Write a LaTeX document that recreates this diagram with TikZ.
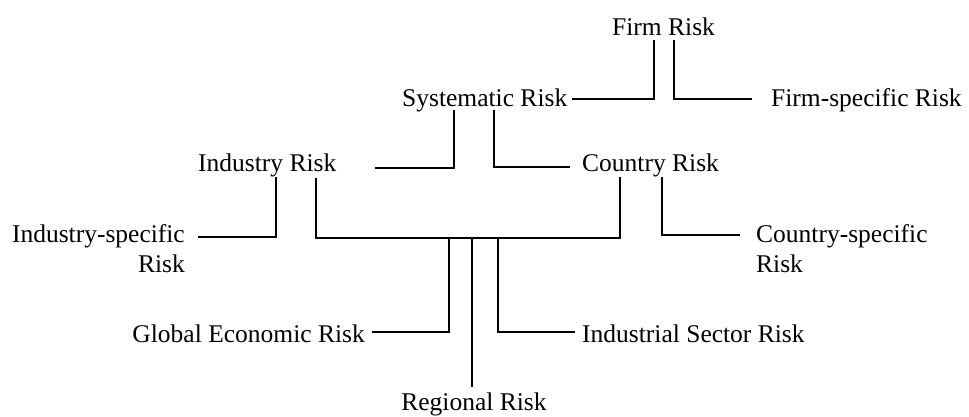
\documentclass[tikz,border=0pt]{standalone}
\usepackage{fontspec}
\setmainfont{Liberation Serif}
\tikzset{
  lbl/.style={inner sep=0pt, font=\fontsize{25.5}{30}\selectfont},
  conn/.style={line width=1.7pt, black},
  thinconn/.style={line width=1.1pt, black}
}
\begin{document}
\begin{tikzpicture}[x=1pt,y=-1pt]
\fill[white] (0,0) rectangle (969,416);
\useasboundingbox (0,0) rectangle (969,416);

% nodes
\node[lbl, anchor=base west] (firm) at (612,35) {Firm Risk};
\node[lbl, anchor=base west] (sys) at (402,106) {Systematic Risk};
\node[lbl, anchor=base west] (firmspec) at (771,106) {Firm-specific Risk};
\node[lbl, anchor=base west] (ind) at (198,171) {Industry Risk};
\node[lbl, anchor=base west] (country) at (582,171) {Country Risk};
\node[lbl, anchor=north east, align=right] (indspec) at (185,224) {Industry-specific\\Risk};
\node[lbl, anchor=north west, align=left] (countryspec) at (756,224) {Country-specific\\Risk};
\node[lbl, anchor=base east] (global) at (365,342) {Global Economic Risk};
\node[lbl, anchor=base west] (industrial) at (582,342) {Industrial Sector Risk};
\node[lbl, anchor=base] (regional) at (474,410) {Regional Risk};

% connectors
\draw[conn] ([shift={(42pt,-5pt)}]firm.base west) |- ([shift={(5pt,7pt)}]sys.base east);
\draw[conn] ([shift={(62pt,-5pt)}]firm.base west) |- ([shift={(-19pt,7pt)}]firmspec.base west);

\draw[conn] ([shift={(52pt,-4pt)}]sys.base west) |- ([shift={(177pt,3pt)}]ind.base west);
\draw[conn] ([shift={(92pt,-4pt)}]sys.base west) |- ([shift={(-12pt,4pt)}]country.base west);

\draw[conn] ([shift={(78pt,-6pt)}]ind.base west) |- ([shift={(13pt,-13pt)}]indspec.north east);
\coordinate (barL) at ([shift={(118pt,-67pt)}]ind.base west);
\draw[conn] ([shift={(118pt,-7pt)}]ind.base west) -- (barL) -- ([shift={(38pt,-67pt)}]country.base west) -- ([shift={(38pt,-6pt)}]country.base west);
\draw[conn] ([shift={(80pt,-6pt)}]country.base west) |- ([shift={(-16pt,-11pt)}]countryspec.north west);

\draw[conn] ([xshift=133pt]barL) |- ([shift={(7pt,10pt)}]global.base east);
\draw[thinconn] ([xshift=156pt]barL) -- ([shift={(-2pt,23pt)}]regional.base);
\draw[conn] ([xshift=182pt]barL) |- ([shift={(-7pt,10pt)}]industrial.base west);
\end{tikzpicture}
\end{document}
